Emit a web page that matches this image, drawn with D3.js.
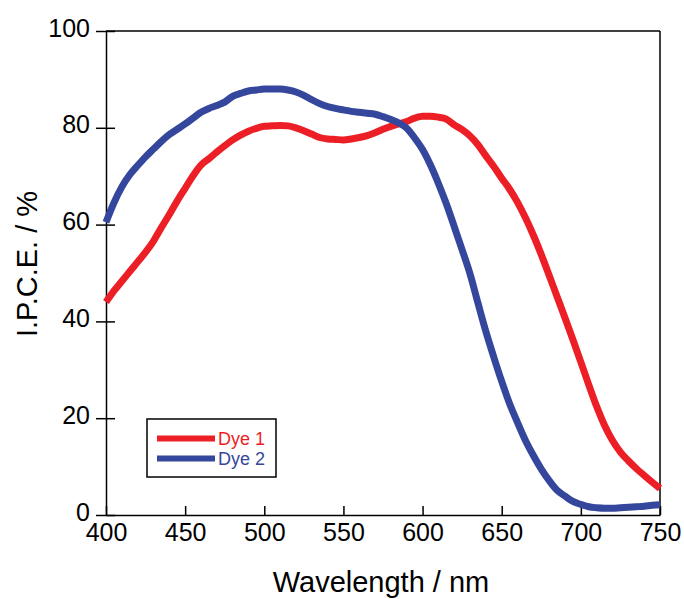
<!DOCTYPE html>
<html>
<head>
<meta charset="utf-8">
<script src="https://cdn.jsdelivr.net/npm/d3@7"></script>
<style>
  html, body { margin: 0; padding: 0; background: #fff; }
  svg { display: block; font-family: "Liberation Sans", Arial, sans-serif; }
</style>
</head>
<body>
<svg id="chart" width="684" height="599"></svg>
<script>
const wavelengths = [400,405,410,415,420,425,430,435,440,445,450,455,460,465,470,475,480,485,490,495,
  500,505,510,515,520,525,530,535,540,545,550,555,560,565,570,575,580,585,590,595,
  600,605,610,615,620,625,630,635,640,645,650,655,660,665,670,675,680,685,690,695,
  700,705,710,715,720,725,730,735,740,745,750];
const dye1 = [44,46.3,48.3,50.3,52.3,54.3,56.6,59.4,62.1,64.9,67.5,70.1,72.3,73.6,75,76.3,77.5,78.5,79.3,79.9,
  80.3,80.4,80.5,80.4,80,79.4,78.7,78,77.7,77.6,77.5,77.7,78,78.4,79,79.7,80.3,80.8,81.3,82,
  82.4,82.4,82.2,81.8,80.6,79.6,78.3,76.5,74.2,72,69.6,67.3,64.6,61.4,57.8,53.8,49.5,45.1,40.7,36.2,
  31.6,26.9,22.4,18.5,15.4,13,11.2,9.6,8.2,6.8,5.5];
const dye2 = [60.5,64.5,67.8,70.3,72.2,74,75.6,77.2,78.6,79.7,80.8,82,83.2,84,84.6,85.3,86.5,87.1,87.6,87.8,
  88,88,88,87.8,87.4,86.7,85.8,85,84.4,84,83.7,83.4,83.2,83,82.8,82.3,81.7,81,79.9,77.9,
  75.5,72.3,68.5,64.3,59.6,54.8,49.8,43.8,37.9,32.6,27.6,23,19.1,15.4,12.3,9.5,7.1,5.1,3.9,2.8,
  2.2,1.7,1.5,1.4,1.4,1.5,1.6,1.7,1.8,2,2.1];
const xTicks = [400,450,500,550,600,650,700,750];
const yTicks = [0,20,40,60,80,100];
const seriesNames = ["Dye 1","Dye 2"];
const seriesColors = ["#ed1f26","#35479c"];

const svg = d3.select("#chart");
const pLeft = 106, pRight = 660, pTop = 31, pBottom = 515;
const x = d3.scaleLinear().domain([400,750]).range([pLeft,pRight]);
const y = d3.scaleLinear().domain([0,100]).range([pBottom,pTop]);

// frame (top & right)
svg.append("line").attr("x1",pLeft).attr("x2",pRight).attr("y1",pTop).attr("y2",pTop)
  .attr("stroke","#000").attr("stroke-width",1.5);
svg.append("line").attr("x1",pRight).attr("x2",pRight).attr("y1",pTop).attr("y2",pBottom)
  .attr("stroke","#000").attr("stroke-width",1.5);

// y axis
const gy = svg.append("g").attr("transform",`translate(${pLeft},0)`)
  .call(d3.axisLeft(y).tickValues(yTicks).tickSize(10).tickPadding(6).tickSizeOuter(0));
gy.select(".domain").attr("stroke","#000").attr("stroke-width",1.5);
gy.selectAll(".tick line").attr("x1",9).attr("stroke-width",1.5);
gy.selectAll(".tick text").attr("font-size",25).attr("fill","#000")
  .attr("font-family","'Liberation Sans', Arial, sans-serif").attr("dy","0.2em");

// x axis
const gx = svg.append("g").attr("transform",`translate(0,${pBottom})`)
  .call(d3.axisBottom(x).tickValues(xTicks).tickSize(0).tickSizeOuter(0));
gx.select(".domain").attr("stroke","#000").attr("stroke-width",1.5);
gx.selectAll(".tick line").attr("y1",-9).attr("y2",0).attr("stroke-width",1.5);
gx.selectAll(".tick text").attr("font-size",25).attr("fill","#000").attr("y",8)
  .attr("font-family","'Liberation Sans', Arial, sans-serif");

// titles
svg.append("text").attr("x",381).attr("y",592).attr("text-anchor","middle")
  .attr("font-size",29).attr("fill","#000").text("Wavelength / nm");
svg.append("text").attr("transform","translate(37,264) rotate(-90)").attr("text-anchor","middle")
  .attr("font-size",29).attr("fill","#000").text("I.P.C.E. / %");

// lines
const line = d3.line().x((d,i)=>x(wavelengths[i])).y(d=>y(d)).curve(d3.curveMonotoneX);
[dye1, dye2].forEach((s,k)=>{
  svg.append("path").datum(s).attr("d",line).attr("fill","none")
    .attr("stroke",seriesColors[k]).attr("stroke-width",7).attr("stroke-linejoin","round");
});

// legend
svg.append("rect").attr("x",147).attr("y",419).attr("width",129).attr("height",58)
  .attr("fill","#fff").attr("stroke","#000").attr("stroke-width",1.5);
seriesNames.forEach((n,k)=>{
  const yy = 438.5 + k*20;
  svg.append("line").attr("x1",157).attr("x2",215).attr("y1",yy).attr("y2",yy)
    .attr("stroke",seriesColors[k]).attr("stroke-width",6);
  svg.append("text").attr("x",218).attr("y",yy+6.5).attr("font-size",18)
    .attr("fill",seriesColors[k]).text(n);
});
</script>
</body>
</html>
